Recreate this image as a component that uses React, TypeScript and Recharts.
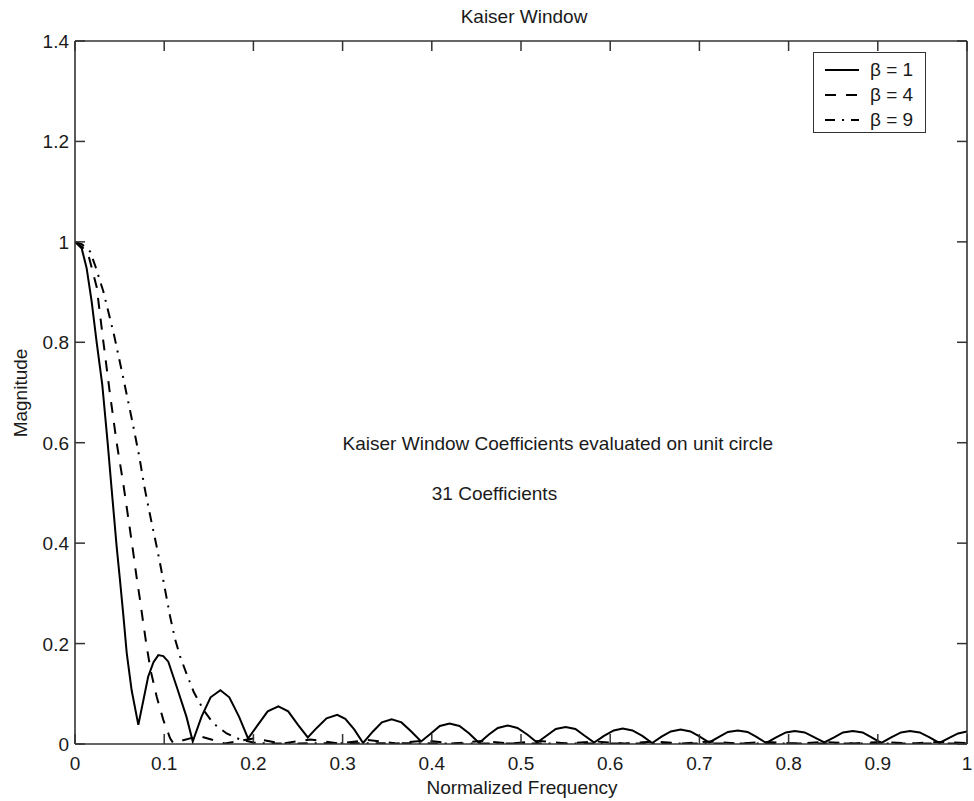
import { LineChart, Line, XAxis, YAxis, ReferenceDot } from "recharts";

// normalized frequency axis (1 = Nyquist)
const freqTicks = [0, 0.1, 0.2, 0.3, 0.4, 0.5, 0.6, 0.7, 0.8, 0.9, 1];
const freqTickLabels = ["0", "0.1", "0.2", "0.3", "0.4", "0.5", "0.6", "0.7", "0.8", "0.9", "1"];
const magTicks = [0, 0.2, 0.4, 0.6, 0.8, 1, 1.2, 1.4];
const magTickLabels = ["0", "0.2", "0.4", "0.6", "0.8", "1", "1.2", "1.4"];

// beta = 1
const beta1Freq = [
  0, 0.0075, 0.013, 0.0187, 0.0243, 0.0306, 0.0366, 0.0407, 0.0467, 0.0504, 0.054, 0.058,
  0.0635, 0.071, 0.077, 0.082, 0.088, 0.0934, 0.099, 0.1046, 0.114, 0.125, 0.132,
  0.142, 0.152, 0.163, 0.173, 0.184, 0.194,
  0.205, 0.216, 0.228, 0.239, 0.25, 0.261,
  0.271, 0.282, 0.294, 0.303, 0.313, 0.323,
  0.334, 0.344, 0.355, 0.366, 0.377, 0.388,
  0.399, 0.409, 0.42, 0.431, 0.442, 0.453,
  0.464, 0.474, 0.485, 0.496, 0.507, 0.518,
  0.529, 0.539, 0.55, 0.561, 0.571, 0.582,
  0.593, 0.604, 0.614, 0.625, 0.636, 0.647,
  0.658, 0.668, 0.679, 0.69, 0.7, 0.711,
  0.722, 0.732, 0.743, 0.754, 0.764, 0.775,
  0.786, 0.797, 0.807, 0.818, 0.829, 0.84,
  0.851, 0.861, 0.872, 0.883, 0.893, 0.904,
  0.915, 0.926, 0.936, 0.947, 0.958, 0.969,
  0.98, 0.99, 1,
];
const beta1Mag = [
  1, 0.987, 0.948, 0.881, 0.8, 0.715, 0.6, 0.515, 0.393, 0.327, 0.26, 0.181,
  0.107, 0.038, 0.09, 0.134, 0.163, 0.177, 0.175, 0.164, 0.114, 0.054, 0.005,
  0.055, 0.093, 0.107, 0.093, 0.054, 0.011,
  0.038, 0.065, 0.075, 0.065, 0.038, 0.013,
  0.032, 0.051, 0.058, 0.05, 0.029, 0.002,
  0.025, 0.043, 0.049, 0.043, 0.025, 0.005,
  0.021, 0.036, 0.041, 0.036, 0.021, 0.002,
  0.019, 0.032, 0.037, 0.032, 0.019, 0.003,
  0.017, 0.03, 0.034, 0.03, 0.017, 0.003,
  0.016, 0.027, 0.031, 0.027, 0.016, 0.002,
  0.015, 0.025, 0.029, 0.025, 0.015, 0.003,
  0.014, 0.024, 0.027, 0.024, 0.014, 0.002,
  0.013, 0.023, 0.026, 0.023, 0.013, 0.003,
  0.013, 0.023, 0.026, 0.023, 0.013, 0.002,
  0.013, 0.023, 0.026, 0.023, 0.013, 0.002,
  0.012, 0.021, 0.025,
];

// beta = 4
const beta4Freq = [
  0, 0.008, 0.015, 0.0243, 0.0318, 0.039, 0.0467, 0.054, 0.0617, 0.0654, 0.069, 0.0729,
  0.0766, 0.0804, 0.085, 0.0916, 0.099, 0.1065, 0.11,
  0.139, 0.168, 0.2, 0.232, 0.264, 0.296, 0.328, 0.36, 0.392, 0.424, 0.456, 0.488,
  0.52, 0.552, 0.584, 0.616, 0.648, 0.68, 0.712, 0.744, 0.776, 0.808, 0.84, 0.872,
  0.904, 0.936, 0.968, 1,
];
const beta4Mag = [
  1, 0.99, 0.974, 0.91, 0.801, 0.7, 0.6, 0.52, 0.426, 0.38, 0.333, 0.287,
  0.24, 0.194, 0.145, 0.094, 0.048, 0.012, 0.002,
  0.016, 0.001, 0.011, 0.001, 0.009, 0.001, 0.008, 0.001, 0.007, 0.001, 0.006, 0.001,
  0.006, 0.001, 0.005, 0.001, 0.005, 0.001, 0.005, 0.001, 0.004, 0.001, 0.004, 0.001,
  0.004, 0.001, 0.004, 0.002,
];

// beta = 9
const beta9Freq = [
  0, 0.008, 0.0168, 0.0224, 0.0318, 0.0437, 0.0534, 0.0643, 0.069, 0.0725, 0.0775, 0.0822,
  0.086, 0.0916, 0.0953, 0.101, 0.1065, 0.112, 0.1177, 0.125, 0.133, 0.144, 0.155, 0.17,
  0.185, 0.2, 0.215, 0.3, 0.5, 0.7, 0.9, 1,
];
const beta9Mag = [
  1, 0.995, 0.981, 0.954, 0.901, 0.815, 0.735, 0.642, 0.6, 0.568, 0.515, 0.473,
  0.44, 0.393, 0.36, 0.307, 0.255, 0.21, 0.175, 0.14, 0.104, 0.068, 0.041, 0.021,
  0.009, 0.003, 0.001, 0.0015, 0.001, 0.001, 0.001, 0.001,
];

const seriesNames = ["β = 1", "β = 4", "β = 9"];

const noteText = ["Kaiser Window Coefficients evaluated on unit circle", "31 Coefficients"];
const noteFreq = [0.3, 0.4];
const noteMag = [0.6, 0.5];

const toPoints = (f: number[], m: number[]) => f.map((x, i) => ({ f: x, m: m[i] }));

const series = [
  { name: seriesNames[0], data: toPoints(beta1Freq, beta1Mag), dash: undefined },
  { name: seriesNames[1], data: toPoints(beta4Freq, beta4Mag), dash: "11 10" },
  { name: seriesNames[2], data: toPoints(beta9Freq, beta9Mag), dash: "10 7 2 7" },
];

const FONT = '"Liberation Sans", Arial, Helvetica, sans-serif';
const INK = "#1a1a1a";
const AXIS = "#333";
const TICK = 10;
const FS = 19;

// plot box size, used to mirror the ticks on the top and right edges
const PLOT_W = 892;
const PLOT_H = 703;

const BottomTick = ({ x, y, payload }: any) => (
  <g>
    <line x1={x} y1={y} x2={x} y2={y - TICK} stroke={AXIS} strokeWidth={1.5} />
    <line x1={x} y1={y - PLOT_H} x2={x} y2={y - PLOT_H + TICK} stroke={AXIS} strokeWidth={1.5} />
    <text x={x} y={y + 26} textAnchor="middle" fontSize={FS} fill={INK} fontFamily={FONT}>
      {freqTickLabels[freqTicks.indexOf(payload.value)]}
    </text>
  </g>
);

const LeftTick = ({ x, y, payload }: any) => (
  <g>
    <line x1={x} y1={y} x2={x + TICK} y2={y} stroke={AXIS} strokeWidth={1.5} />
    <line x1={x + PLOT_W} y1={y} x2={x + PLOT_W - TICK} y2={y} stroke={AXIS} strokeWidth={1.5} />
    <text x={x - 6} y={y + 7} textAnchor="end" fontSize={FS} fill={INK} fontFamily={FONT}>
      {magTickLabels[magTicks.indexOf(payload.value)]}
    </text>
  </g>
);

const noteShape = (text: string) => (p: any) => (
  <text x={p.cx} y={p.cy + 7} fontSize={FS} fill={INK} fontFamily={FONT}>
    {text}
  </text>
);

const LegendBox = () => (
  <div
    style={{
      position: "absolute",
      left: 813,
      top: 52,
      width: 113,
      height: 81,
      boxSizing: "border-box",
      border: `1.5px solid ${AXIS}`,
      background: "#fff",
    }}
  >
    {series.map((s, i) => (
      <div
        key={s.name}
        style={{ position: "absolute", left: 11, top: 4 + i * 25, height: 25, display: "flex", alignItems: "center" }}
      >
        <svg width={34} height={6} style={{ display: "block" }}>
          <line x1={0} y1={3} x2={34} y2={3} stroke="#000" strokeWidth={2} strokeDasharray={s.dash} />
        </svg>
        <span style={{ marginLeft: 11, fontSize: FS, color: INK, fontFamily: FONT, lineHeight: "25px" }}>{s.name}</span>
      </div>
    ))}
  </div>
);

export default function App() {
  return (
    <div style={{ position: "absolute", left: 0, top: 0, width: 974, height: 801, background: "#fff", fontFamily: FONT }}>
      <LineChart width={974} height={801} margin={{ top: 40, right: 6, bottom: 0, left: 0 }}>
        <XAxis
          dataKey="f"
          type="number"
          domain={[0, 1]}
          ticks={freqTicks}
          interval={0}
          allowDataOverflow
          height={57}
          tickSize={0}
          tickMargin={0}
          tickLine={false}
          tick={<BottomTick />}
          axisLine={{ stroke: AXIS, strokeWidth: 1.6 }}
        />
        {/* top and right edges of the box */}
        <XAxis
          xAxisId="top"
          orientation="top"
          type="number"
          domain={[0, 1]}
          height={1}
          tick={false}
          tickLine={false}
          axisLine={{ stroke: AXIS, strokeWidth: 1.6 }}
        />
        <YAxis
          type="number"
          domain={[0, 1.4]}
          ticks={magTicks}
          interval={0}
          allowDataOverflow
          width={75}
          tickSize={0}
          tickMargin={0}
          tickLine={false}
          tick={<LeftTick />}
          axisLine={{ stroke: AXIS, strokeWidth: 1.6 }}
        />
        <YAxis
          yAxisId="right"
          orientation="right"
          type="number"
          domain={[0, 1.4]}
          width={1}
          tick={false}
          tickLine={false}
          axisLine={{ stroke: AXIS, strokeWidth: 1.6 }}
        />
        {series.map((s) => (
          <Line
            key={s.name}
            name={s.name}
            data={s.data}
            dataKey="m"
            type="linear"
            stroke="#000"
            strokeWidth={2}
            strokeDasharray={s.dash}
            dot={false}
            activeDot={false}
            isAnimationActive={false}
          />
        ))}
        {noteText.map((t, i) => (
          <ReferenceDot key={t} x={noteFreq[i]} y={noteMag[i]} r={0} shape={noteShape(t)} ifOverflow="visible" />
        ))}
      </LineChart>

      <div style={{ position: "absolute", left: 0, width: 974, top: 6, textAlign: "center", paddingLeft: 74, boxSizing: "border-box", fontSize: FS, color: INK }}>
        Kaiser Window
      </div>
      <div style={{ position: "absolute", left: 0, width: 974, top: 777, textAlign: "center", paddingLeft: 70, boxSizing: "border-box", fontSize: FS, color: INK }}>
        Normalized Frequency
      </div>
      <div
        style={{
          position: "absolute",
          left: 21,
          top: 393,
          transform: "translate(-50%, -50%) rotate(-90deg)",
          whiteSpace: "nowrap",
          fontSize: FS,
          color: INK,
        }}
      >
        Magnitude
      </div>
      <LegendBox />
    </div>
  );
}
